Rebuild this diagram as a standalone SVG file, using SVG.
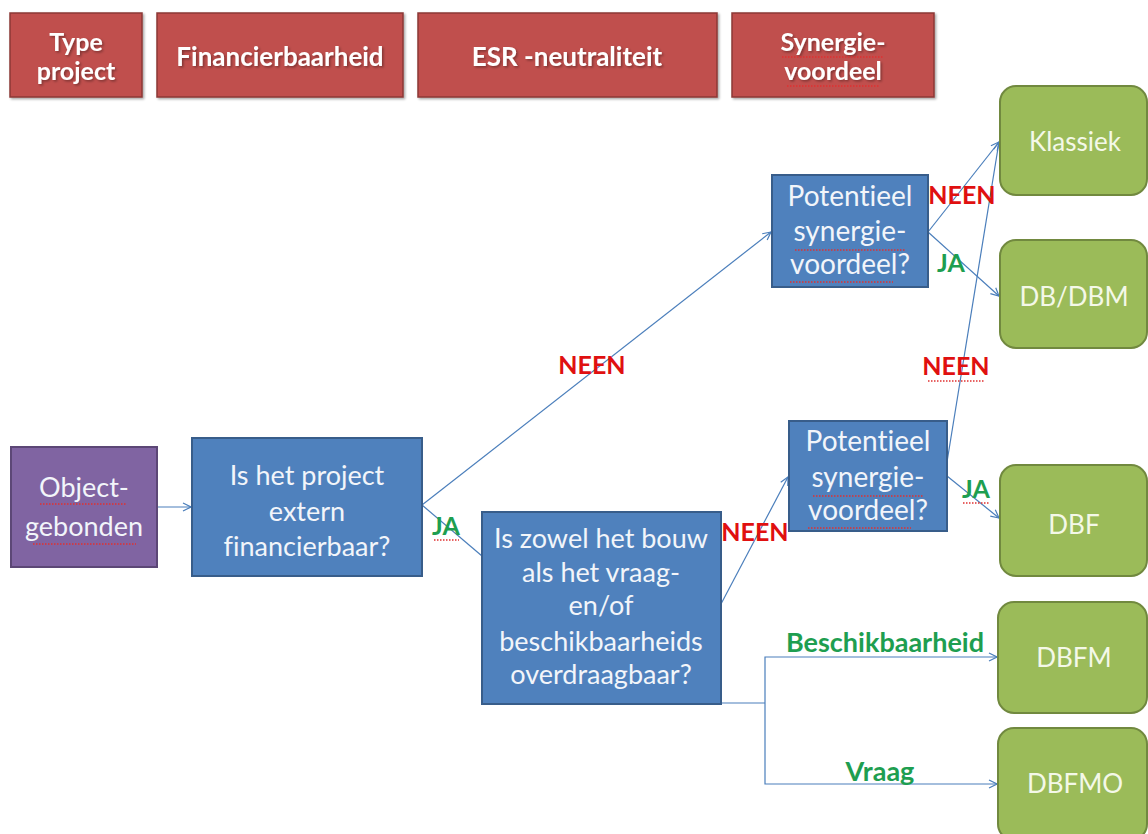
<svg xmlns="http://www.w3.org/2000/svg" width="1148" height="834" viewBox="0 0 1148 834">
<style>
text{font-variant-ligatures:none}
.hdr{fill:#C0504D;stroke:#8C3836;stroke-width:1.5}
.hdt{font-family:Lato,"Liberation Sans",sans-serif;font-weight:bold;font-size:25px;fill:#fff;text-anchor:middle}
.hdb{font-size:26px}
.blue{fill:#4F81BD;stroke:#385D8A;stroke-width:2}
.purp{fill:#8064A2;stroke:#5C4776;stroke-width:2}
.grn{fill:#9BBB59;stroke:#71893F;stroke-width:2}
.bt{font-family:Lato,"Liberation Sans",sans-serif;font-size:27px;fill:#F2F5FA;text-anchor:middle}
.pt{font-size:28px}
.gt{font-family:Lato,"Liberation Sans",sans-serif;font-size:26px;fill:#F4F8E8;text-anchor:middle}
.lbl{font-family:Lato,"Liberation Sans",sans-serif;font-weight:bold;font-size:25px;text-anchor:middle}
.big{font-size:27px}
.red{fill:#E01010}
.gr{fill:#1E9E50}
.con{fill:none;stroke:#4A7EBB;stroke-width:1.2}
.sq{fill:none;stroke:#E03030;stroke-width:1.5;stroke-dasharray:1.5 1.5}
</style>
<defs>
<marker id="arr" markerWidth="10" markerHeight="10" refX="9" refY="5" orient="auto" markerUnits="userSpaceOnUse">
<path d="M1,1 L9,5 L1,9" fill="none" stroke="#4A7EBB" stroke-width="1.2"/>
</marker>
<filter id="sh" x="-10%" y="-10%" width="130%" height="130%">
<feDropShadow dx="1.5" dy="1.5" stdDeviation="1" flood-color="#000" flood-opacity="0.35"/>
</filter>
</defs>

<g id="header-type">
<rect class="hdr" x="10" y="13" width="132" height="84" filter="url(#sh)"/>
<text class="hdt" x="76" y="51" filter="url(#sh)">Type</text>
<text class="hdt" x="76" y="80" filter="url(#sh)">project</text>
</g>
<g id="header-fin">
<rect class="hdr" x="157" y="13" width="246" height="84" filter="url(#sh)"/>
<text class="hdt hdb" x="280" y="66" filter="url(#sh)">Financierbaarheid</text>
</g>
<g id="header-esr">
<rect class="hdr" x="418" y="13" width="299" height="84" filter="url(#sh)"/>
<text class="hdt hdb" x="567" y="66" filter="url(#sh)">ESR -neutraliteit</text>
</g>
<g id="header-syn">
<rect class="hdr" x="732" y="13" width="202" height="84" filter="url(#sh)"/>
<text class="hdt" x="833" y="51" filter="url(#sh)">Synergie-</text>
<text class="hdt" x="833" y="80" filter="url(#sh)">voordeel</text>
<path class="sq" d="M782,57 H884 M787,86 H880"/>
</g>

<g id="connectors">
<line class="con" x1="157" y1="507" x2="191" y2="507" marker-end="url(#arr)"/>
<line class="con" x1="422" y1="505" x2="771" y2="232" marker-end="url(#arr)"/>
<line class="con" x1="422" y1="505" x2="482" y2="556"/>
<line class="con" x1="721" y1="604" x2="788" y2="477" marker-end="url(#arr)"/>
<line class="con" x1="928" y1="232" x2="999" y2="142" marker-end="url(#arr)"/>
<line class="con" x1="928" y1="232" x2="999" y2="296" marker-end="url(#arr)"/>
<line class="con" x1="947" y1="462" x2="999" y2="142" marker-end="url(#arr)"/>
<line class="con" x1="947" y1="476" x2="999" y2="518" marker-end="url(#arr)"/>
<polyline class="con" points="721,703 765,703"/>
<polyline class="con" points="765,703 765,657 997,657" marker-end="url(#arr)"/>
<polyline class="con" points="765,703 765,784 997,784" marker-end="url(#arr)"/>
</g>

<g id="object">
<rect class="purp" x="11" y="447" width="146" height="120"/>
<text class="bt" x="84" y="497">Object-</text>
<text class="bt" x="84" y="536">gebonden</text>
<path class="sq" d="M40,504 H127 M33,544 H136"/>
</g>
<g id="q-financierbaar">
<rect class="blue" x="192" y="438" width="230" height="138"/>
<text class="bt" x="307" y="485">Is het project</text>
<text class="bt" x="307" y="521">extern</text>
<text class="bt" x="307" y="556">financierbaar?</text>
</g>
<g id="q-overdraagbaar">
<rect class="blue" x="482" y="512" width="239" height="192"/>
<text class="bt" x="601" y="548">Is zowel het bouw</text>
<text class="bt" x="601" y="582">als het vraag-</text>
<text class="bt" x="601" y="615">en/of</text>
<text class="bt" x="601" y="651">beschikbaarheids</text>
<text class="bt" x="601" y="684">overdraagbaar?</text>
</g>
<g id="q-synergie-1">
<rect class="blue" x="772" y="175" width="156" height="112"/>
<text class="bt pt" x="850" y="206">Potentieel</text>
<text class="bt pt" x="850" y="241">synergie-</text>
<text class="bt pt" x="850" y="274">voordeel?</text>
<path class="sq" d="M795,250 H905 M790,282 H893"/>
</g>
<g id="q-synergie-2">
<rect class="blue" x="789" y="421" width="158" height="110"/>
<text class="bt pt" x="868" y="451">Potentieel</text>
<text class="bt pt" x="868" y="487">synergie-</text>
<text class="bt pt" x="868" y="520">voordeel?</text>
<path class="sq" d="M813,496 H923 M808,528 H911"/>
</g>

<g id="klassiek">
<rect class="grn" x="1000" y="86" width="147" height="109" rx="16"/>
<text class="gt" x="1075" y="151">Klassiek</text>
</g>
<g id="dbdbm">
<rect class="grn" x="1000" y="240" width="147" height="108" rx="16"/>
<text class="gt" x="1074" y="306">DB/DBM</text>
</g>
<g id="dbf">
<rect class="grn" x="1000" y="465" width="147" height="111" rx="16"/>
<text class="gt" x="1074" y="534">DBF</text>
</g>
<g id="dbfm">
<rect class="grn" x="998" y="602" width="149" height="111" rx="16"/>
<text class="gt" x="1074" y="667">DBFM</text>
</g>
<g id="dbfmo">
<rect class="grn" x="998" y="728" width="149" height="112" rx="16"/>
<text class="gt" x="1075" y="793">DBFMO</text>
</g>

<g id="labels">
<text class="lbl red" x="592" y="374">NEEN</text>
<text class="lbl gr" x="446" y="535">JA</text>
<path class="sq" d="M434,540 H459"/>
<text class="lbl red" x="755" y="541">NEEN</text>
<text class="lbl red" x="962" y="204">NEEN</text>
<text class="lbl gr" x="951" y="272">JA</text>
<text class="lbl red" x="956" y="375">NEEN</text>
<path class="sq" d="M928,381 H984"/>
<text class="lbl gr" x="976" y="498">JA</text>
<path class="sq" d="M963,503 H989"/>
<text class="lbl gr big" x="885" y="652">Beschikbaarheid</text>
<text class="lbl gr big" x="880" y="781">Vraag</text>
</g>
</svg>
